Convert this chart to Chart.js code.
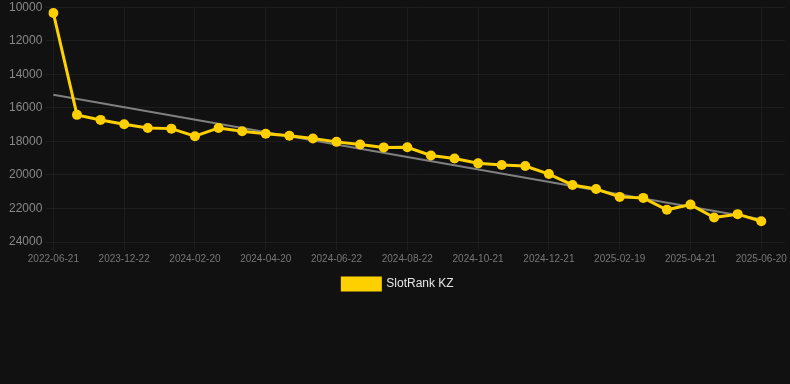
<!DOCTYPE html>
<html>
<head>
<meta charset="utf-8">
<script src="https://cdn.jsdelivr.net/npm/chart.js@4.4.0/dist/chart.umd.min.js"></script>
<style>
  html, body { margin: 0; padding: 0; background: #111111; }
  #wrap { width: 790px; height: 303px; margin-top: -3px; }
</style>
</head>
<body>
<div id="wrap"><canvas id="rank-chart"></canvas></div>
<script>
// dates of each rank reading
const dates = [
  '2022-06-21', '2023-11-22', '2023-12-02', '2023-12-22', '2024-01-11', '2024-01-31',
  '2024-02-20', '2024-03-11', '2024-03-31', '2024-04-20', '2024-05-10', '2024-05-31',
  '2024-06-22', '2024-07-12', '2024-08-01', '2024-08-22', '2024-09-11', '2024-10-01',
  '2024-10-21', '2024-11-10', '2024-11-30', '2024-12-21', '2025-01-10', '2025-01-30',
  '2025-02-19', '2025-03-11', '2025-03-31', '2025-04-21', '2025-05-11', '2025-05-31',
  '2025-06-20'
];

// rank of the slot in KZ
const rankKZ = [
  10350, 16420, 16720, 16980, 17200, 17240,
  17690, 17200, 17400, 17550, 17670, 17830,
  18030, 18190, 18360, 18350, 18840, 19020,
  19310, 19410, 19470, 19950, 20600, 20840,
  21310, 21370, 22080, 21770, 22540, 22340,
  22760
];

// trend line, first and last value only
const trendStart = 15220;
const trendEnd = 22640;

const yTicksMin = 10000;
const yTicksMax = 24000;
const yTickStep = 2000;

const trend = dates.map((d, i) => i === 0 ? trendStart : (i === dates.length - 1 ? trendEnd : null));

const canvas = document.getElementById('rank-chart');

new Chart(canvas, {
  type: 'line',
  data: {
    labels: dates,
    datasets: [
      {
        label: 'SlotRank KZ',
        data: rankKZ,
        borderColor: '#FFD000',
        backgroundColor: '#FFD000',
        borderWidth: 3,
        pointRadius: 5,
        pointHoverRadius: 5,
        pointBackgroundColor: '#FFD000',
        pointBorderWidth: 0,
        tension: 0,
        order: 1
      },
      {
        label: 'trend',
        data: trend,
        borderColor: 'rgba(140,140,140,0.9)',
        borderWidth: 2,
        pointRadius: 0,
        spanGaps: true,
        order: 2
      }
    ]
  },
  options: {
    responsive: true,
    maintainAspectRatio: false,
    animation: false,
    layout: { padding: { top: 0, right: 0, left: 6 } },
    plugins: {
      legend: {
        position: 'bottom',
        labels: {
          color: '#e6e6e6',
          boxWidth: 38,
          boxHeight: 12,
          font: { family: 'Liberation Sans, Arial, sans-serif', size: 12 },
          filter: item => item.text !== 'trend'
        }
      },
      tooltip: { enabled: false }
    },
    scales: {
      x: {
        // leave one empty slot on the right, like the original
        afterBuildTicks: scale => { scale._valueRange = scale._valueRange + 1; },
        ticks: {
          autoSkip: false,
          maxRotation: 0,
          color: '#777777',
          font: { family: 'Liberation Sans, Arial, sans-serif', size: 10 },
          callback: function (value, index) {
            if (index % 3 !== 0) return null;
            return this.getLabelForValue(value);
          }
        },
        grid: { color: 'rgba(255,255,255,0.05)' },
        border: { display: false }
      },
      y: {
        reverse: true,
        min: yTicksMin,
        max: yTicksMax,
        ticks: {
          stepSize: yTickStep,
          color: '#888888',
          font: { family: 'Liberation Sans, Arial, sans-serif', size: 12 },
          callback: value => String(value)
        },
        grid: { color: 'rgba(255,255,255,0.05)' },
        border: { display: false }
      }
    }
  }
});
</script>
</body>
</html>
